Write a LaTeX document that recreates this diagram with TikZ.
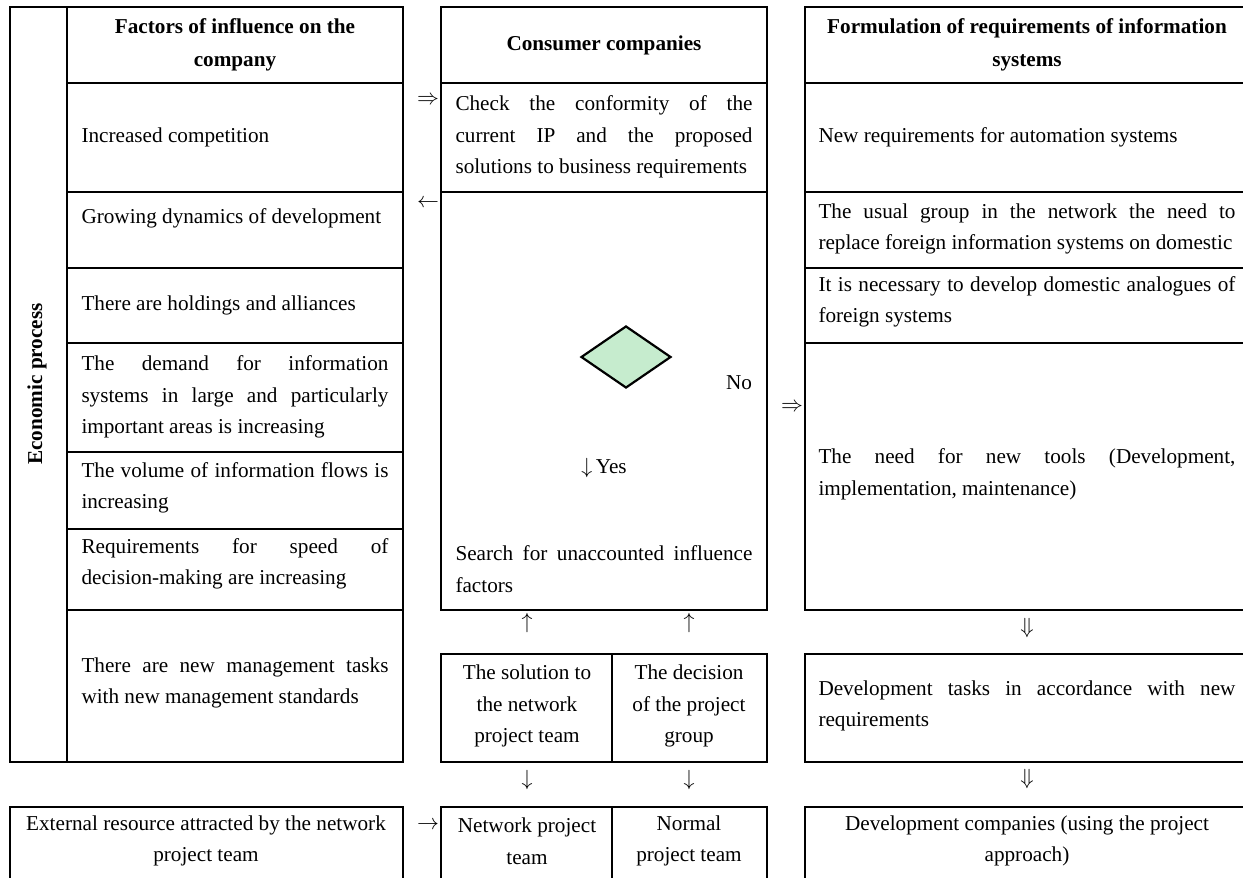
\documentclass[tikz,border=0pt]{standalone}
\usepackage{fontspec}
\setmainfont{Liberation Serif}
\usetikzlibrary{positioning,shapes.geometric}

\definecolor{decgreen}{RGB}{198,236,206}
\tolerance=10000
\hbadness=10000
\hyphenpenalty=10000

\begin{document}
\begin{tikzpicture}[
    x=0.5pt, y=-0.5pt,
    grid/.style={line width=1.2pt},
    body/.style={font=\fontsize{10.6}{15.8}\selectfont, inner sep=0pt},
    hd/.style={body, font=\fontsize{10.6}{16.6}\selectfont\bfseries, align=center},
    lcell/.style={body, text width=153.5pt, align=justify},
    mcell/.style={body, text width=148.5pt, align=justify},
    rcell/.style={body, text width=208.5pt, align=justify},
    ccell/.style={body, align=center},
    sym/.style={body},
]
\useasboundingbox (0,0) rectangle (1243,878);
\clip (0,0) rectangle (1243,878);

% --- Table lines ---
% left column
\draw[grid] (10,7) rectangle (403,762);
\draw[grid] (67,7) -- (67,762);
\foreach \y in {83,192,268,343,452,529,610} {
    \draw[grid] (67,\y) -- (403,\y);
}
% middle column
\draw[grid] (441,7) rectangle (767,610);
\foreach \y in {83,192} {
    \draw[grid] (441,\y) -- (767,\y);
}
\draw[grid] (441,654) rectangle (767,762);
\draw[grid] (612,654) -- (612,762);
% right column (runs off the right edge)
\draw[grid] (805,7) rectangle (1249,610);
\foreach \y in {83,192,268,343} {
    \draw[grid] (805,\y) -- (1249,\y);
}
\draw[grid] (805,654) rectangle (1249,762);
% bottom row (runs off the bottom edge)
\draw[grid] (10,807) rectangle (403,900);
\draw[grid] (441,807) rectangle (767,900);
\draw[grid] (612,807) -- (612,900);
\draw[grid] (805,807) rectangle (1249,900);

% --- Factors of influence ---
\node[hd, rotate=90] (econ) at (37,384) {Economic process};
\node[hd] (hdfac) at (235,45) {Factors of influence on the\\company};
\node[lcell] (fac1) at (235,137) {Increased competition};
\node[lcell] (fac2) at (235,218) {Growing dynamics of development};
\node[lcell] (fac3) at (235,305) {There are holdings and alliances};
\node[lcell] (fac4) at (235,397) {The demand for information\linebreak systems in large and particularly\linebreak important areas is increasing};
\node[lcell] (fac5) at (235,488) {The volume of information flows is\linebreak increasing};
\node[lcell] (fac6) at (235,564) {Requirements for speed of\linebreak decision-making are increasing};
\node[lcell] (fac7) at (235,683) {There are new management tasks\linebreak with new management standards};
\node[ccell] (ext) at (206,841) {External resource attracted by the network\\project team};

% --- Consumer companies ---
\node[hd] (hdcons) at (604,45) {Consumer companies};
\node[mcell] (check) at (604,137) {Check the conformity of the\linebreak current IP and the proposed\linebreak solutions to business requirements};
\node[diamond, draw, line width=1.1pt, fill=decgreen, aspect=1.45,
      minimum width=45pt, minimum height=31pt, inner sep=0pt] (dec) at (626,357) {};
\node[body] (no) at (739,383) {No};
\node[body] (yes) at (604,468) {$\downarrow$\,Yes};
\node[mcell] (search) at (604,569) {Search for unaccounted influence\linebreak factors};
\node[ccell] (solnet) at (527,706) {The solution to\\the network\\project team};
\node[ccell] (solgrp) at (689,706) {The decision\\of the project\\group};
\node[ccell] (netteam) at (527,841) {Network project\\team};
\node[ccell] (normteam) at (689,841) {Normal\\project team};

% arrow glyphs between the columns
\node[sym] (in1) at (428,100) {$\Rightarrow$};
\node[sym] (out1) at (428,203) {$\leftarrow$};
\node[sym] (up1) at (527,623) {$\uparrow$};
\node[sym] (up2) at (689,623) {$\uparrow$};
\node[sym] (dn1) at (527,780) {$\downarrow$};
\node[sym] (dn2) at (689,780) {$\downarrow$};
\node[sym] (ext2net) at (428,825) {$\rightarrow$};

% --- Formulation of requirements ---
\node[hd] (hdform) at (1027,45) {Formulation of requirements of information\\systems};
\node[rcell] (req1) at (1027,137) {New requirements for automation systems};
\node[rcell] (req2) at (1027,229) {The usual group in the network the need to\linebreak replace foreign information systems on domestic};
\node[rcell] (req3) at (1027,302) {It is necessary to develop domestic analogues of\linebreak foreign systems};
\node[rcell] (req4) at (1027,474) {The need for new tools (Development,\linebreak implementation, maintenance)};
\node[rcell] (tasks) at (1027,706) {Development tasks in accordance with new\linebreak requirements};
\node[ccell] (devco) at (1027,841) {Development companies (using the project\\approach)};
\node[sym] (cons2req) at (792,407) {$\Rightarrow$};
\node[sym] (dd1) at (1027,628) {$\Downarrow$};
\node[sym] (dd2) at (1027,779) {$\Downarrow$};
\end{tikzpicture}
\end{document}
